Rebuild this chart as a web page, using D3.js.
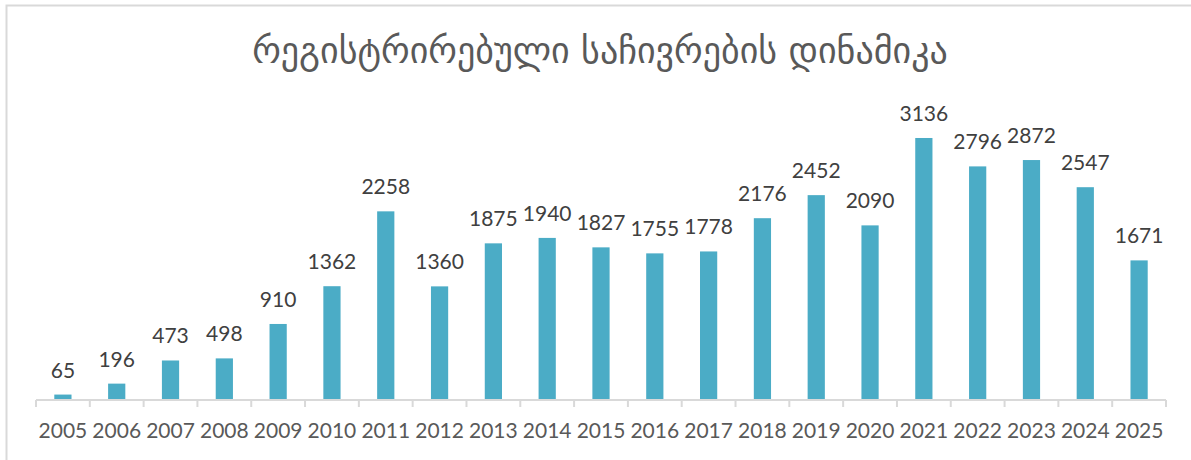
<!DOCTYPE html>
<html>
<head>
<meta charset="utf-8">
<script src="https://cdn.jsdelivr.net/npm/d3@7"></script>
<style>
  body { margin: 0; background: #fff; }
  svg { display: block; }
</style>
</head>
<body>
<div id="chart"></div>
<script>
// data
const title = "რეგისტრირებული საჩივრების დინამიკა"
const years = ["2005", "2006", "2007", "2008", "2009", "2010", "2011", "2012", "2013", "2014", "2015",
               "2016", "2017", "2018", "2019", "2020", "2021", "2022", "2023", "2024", "2025"]
const complaints = [65, 196, 473, 498, 910, 1362, 2258, 1360, 1875, 1940, 1827,
                    1755, 1778, 2176, 2452, 2090, 3136, 2796, 2872, 2547, 1671]

const W = 1191, H = 460
const axisY = 400

const svg = d3.select("#chart").append("svg")
    .attr("width", W)
    .attr("height", H)

// chart frame (only top and left edges visible)
svg.append("path")
    .attr("d", `M6.5,${H} V5.5 H${W}`)
    .attr("fill", "none")
    .attr("stroke", "#d9d9d9")
    .attr("stroke-width", 2)

svg.append("text")
    .attr("x", 600)
    .attr("y", 63)
    .attr("text-anchor", "middle")
    .attr("font-family", "DejaVu Sans, sans-serif")
    .attr("font-size", 36)
    .attr("fill", "#595959")
    .text(title)

let x = d3.scaleBand()
    .domain(years)
    .range([36, 1166])
    .paddingInner(0.68)
    .paddingOuter(0.34)

let y = d3.scaleLinear()
    .domain([0, 3500])
    .range([axisY, axisY - 3500 * 0.08355])

let data = years.map((yr, i) => ({year: yr, value: complaints[i]}))

svg.selectAll(".bar")
    .data(data)
    .enter()
    .append("rect")
    .attr("class", "bar")
    .attr("x", d => x(d.year))
    .attr("width", x.bandwidth())
    .attr("y", d => y(d.value))
    .attr("height", d => axisY - y(d.value))
    .attr("fill", "#4bacc6")

svg.selectAll(".val")
    .data(data)
    .enter()
    .append("text")
    .attr("class", "val")
    .attr("x", d => x(d.year) + x.bandwidth() / 2)
    .attr("y", d => y(d.value) - 17)
    .attr("text-anchor", "middle")
    .attr("font-family", "Lato, sans-serif")
    .attr("font-size", 21)
    .attr("fill", "#404040")
    .text(d => d.value)

// x axis with category boundary ticks
let xAxis = svg.append("g")
    .attr("transform", `translate(0,${axisY})`)

xAxis.append("line")
    .attr("x1", 36).attr("x2", 1166)
    .attr("stroke", "#d9d9d9").attr("stroke-width", 2)

let bounds = d3.range(years.length + 1).map(i => 36 + i * x.step())
xAxis.selectAll(".tick")
    .data(bounds)
    .enter()
    .append("line")
    .attr("x1", d => d).attr("x2", d => d)
    .attr("y1", 0).attr("y2", 7)
    .attr("stroke", "#d9d9d9").attr("stroke-width", 2)

xAxis.selectAll(".lbl")
    .data(years)
    .enter()
    .append("text")
    .attr("x", d => x(d) + x.bandwidth() / 2)
    .attr("y", 38)
    .attr("text-anchor", "middle")
    .attr("font-family", "Lato, sans-serif")
    .attr("font-size", 21)
    .attr("fill", "#595959")
    .text(d => d)
</script>
</body>
</html>
